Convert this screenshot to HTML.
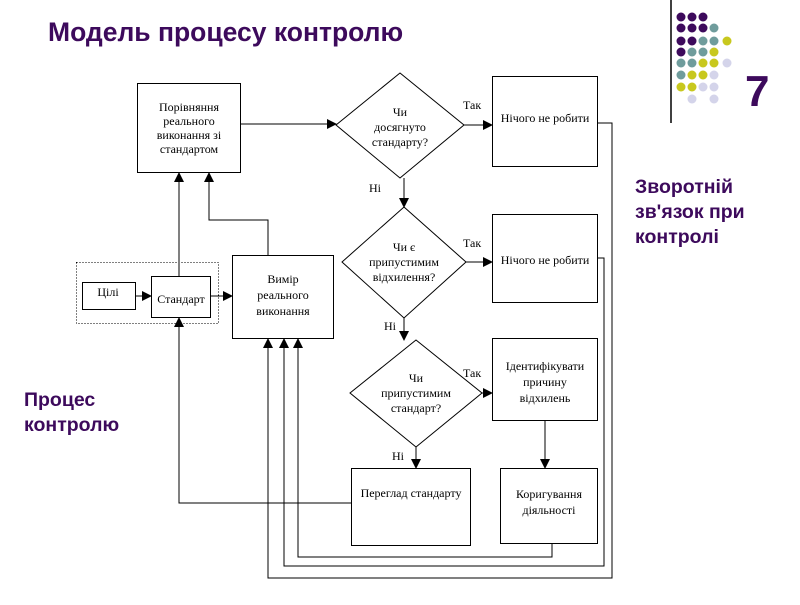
<!DOCTYPE html>
<html><head><meta charset="utf-8"><style>
body{margin:0;background:#fff;}
svg text{font-family:"Liberation Serif",serif;font-size:12px;fill:#000}
.s{font-family:"Liberation Sans",sans-serif;font-weight:bold;fill:#3d0a5c}
</style></head><body>
<svg width="800" height="600" xmlns="http://www.w3.org/2000/svg">
<defs><marker id="a" markerWidth="10" markerHeight="10" refX="9" refY="5" orient="auto" markerUnits="userSpaceOnUse"><path d="M0,0 L10,5 L0,10 z" fill="#000"/></marker></defs>
<line x1="671" y1="0" x2="671" y2="123" stroke="#000" stroke-width="1.5"/>
<g>
<circle cx="681" cy="17" r="4.5" fill="#3d0a5c"/><circle cx="692" cy="17" r="4.5" fill="#3d0a5c"/><circle cx="703" cy="17" r="4.5" fill="#3d0a5c"/>
<circle cx="681" cy="28" r="4.5" fill="#3d0a5c"/><circle cx="692" cy="28" r="4.5" fill="#3d0a5c"/><circle cx="703" cy="28" r="4.5" fill="#3d0a5c"/><circle cx="714" cy="28" r="4.5" fill="#6f9c9c"/>
<circle cx="681" cy="41" r="4.5" fill="#3d0a5c"/><circle cx="692" cy="41" r="4.5" fill="#3d0a5c"/><circle cx="703" cy="41" r="4.5" fill="#6f9c9c"/><circle cx="714" cy="41" r="4.5" fill="#6f9c9c"/><circle cx="727" cy="41" r="4.5" fill="#c8c81e"/>
<circle cx="681" cy="52" r="4.5" fill="#3d0a5c"/><circle cx="692" cy="52" r="4.5" fill="#6f9c9c"/><circle cx="703" cy="52" r="4.5" fill="#6f9c9c"/><circle cx="714" cy="52" r="4.5" fill="#c8c81e"/>
<circle cx="681" cy="63" r="4.5" fill="#6f9c9c"/><circle cx="692" cy="63" r="4.5" fill="#6f9c9c"/><circle cx="703" cy="63" r="4.5" fill="#c8c81e"/><circle cx="714" cy="63" r="4.5" fill="#c8c81e"/><circle cx="727" cy="63" r="4.5" fill="#d4d4ea"/>
<circle cx="681" cy="75" r="4.5" fill="#6f9c9c"/><circle cx="692" cy="75" r="4.5" fill="#c8c81e"/><circle cx="703" cy="75" r="4.5" fill="#c8c81e"/><circle cx="714" cy="75" r="4.5" fill="#d4d4ea"/>
<circle cx="681" cy="87" r="4.5" fill="#c8c81e"/><circle cx="692" cy="87" r="4.5" fill="#c8c81e"/><circle cx="703" cy="87" r="4.5" fill="#d4d4ea"/><circle cx="714" cy="87" r="4.5" fill="#d4d4ea"/>
<circle cx="692" cy="99" r="4.5" fill="#d4d4ea"/><circle cx="714" cy="99" r="4.5" fill="#d4d4ea"/>
</g>
<text x="745" y="106" class="s" style="font-size:44px">7</text>
<text x="48" y="41" class="s" style="font-size:26.5px">Модель процесу контролю</text>
<text x="635" y="193" class="s" style="font-size:19.5px">Зворотній</text>
<text x="635" y="218" class="s" style="font-size:19.5px">зв'язок при</text>
<text x="635" y="243" class="s" style="font-size:19.5px">контролі</text>
<text x="24" y="406" class="s" style="font-size:19.5px">Процес</text>
<text x="24" y="431" class="s" style="font-size:19.5px">контролю</text>

<g fill="none" stroke="#000" stroke-width="1">
<rect x="137.5" y="83.5" width="103" height="89"/>
<rect x="232.5" y="255.5" width="101" height="83"/>
<rect x="151.5" y="276.5" width="59" height="41"/>
<rect x="82.5" y="282.5" width="53" height="27"/>
<rect x="76.5" y="262.5" width="142" height="61" stroke-dasharray="1,2"/>
<rect x="492.5" y="76.5" width="105" height="90"/>
<rect x="492.5" y="214.5" width="105" height="88"/>
<rect x="492.5" y="338.5" width="105" height="82"/>
<rect x="500.5" y="468.5" width="97" height="75"/>
<rect x="351.5" y="468.5" width="119" height="77"/>
<polygon points="400,73 464,125 400,178 336,125"/>
<polygon points="404,207 466,262 404,318 342,262"/>
<polygon points="416,340 482,393 416,447 350,393"/>
</g>
<g fill="none" stroke="#000" stroke-width="1" marker-end="url(#a)">
<line x1="135" y1="296" x2="151" y2="296"/>
<line x1="210" y1="296" x2="232" y2="296"/>
<line x1="179" y1="276" x2="179" y2="173"/>
<polyline points="268,255 268,220 209,220 209,173"/>
<line x1="240" y1="124" x2="336" y2="124"/>
<line x1="464" y1="125" x2="492" y2="125"/>
<line x1="404" y1="178" x2="404" y2="207"/>
<line x1="466" y1="262" x2="492" y2="262"/>
<line x1="404" y1="318" x2="404" y2="340"/>
<line x1="482" y1="393" x2="492" y2="393"/>
<line x1="416" y1="447" x2="416" y2="468"/>
<line x1="545" y1="420" x2="545" y2="468"/>
<polyline points="351,503 179,503 179,318"/>
<polyline points="597,123 612,123 612,578 268,578 268,339"/>
<polyline points="597,258 604,258 604,566 284,566 284,339"/>
<polyline points="552,543 552,557 298,557 298,339"/>
</g>
<g text-anchor="middle">
<text x="189" y="111">Порівняння</text><text x="189" y="125">реального</text><text x="189" y="139">виконання зі</text><text x="189" y="153">стандартом</text>
<text x="283" y="283">Вимір</text><text x="283" y="299">реального</text><text x="283" y="315">виконання</text>
<text x="181" y="303">Стандарт</text>
<text x="108" y="296">Цілі</text>
<text x="545" y="122">Нічого не робити</text>
<text x="545" y="264">Нічого не робити</text>
<text x="545" y="370">Ідентифікувати</text><text x="545" y="386">причину</text><text x="545" y="402">відхилень</text>
<text x="549" y="498">Коригування</text><text x="549" y="514">діяльності</text>
<text x="411" y="497">Переглад  стандарту</text>
<text x="400" y="116">Чи</text><text x="400" y="131">досягнуто</text><text x="400" y="146">стандарту?</text>
<text x="404" y="251">Чи є</text><text x="404" y="266">припустимим</text><text x="404" y="281">відхилення?</text>
<text x="416" y="382">Чи</text><text x="416" y="397">припустимим</text><text x="416" y="412">стандарт?</text>
</g>
<text x="463" y="109">Так</text><text x="463" y="247">Так</text><text x="463" y="377">Так</text>
<text x="369" y="192">Ні</text><text x="384" y="330">Ні</text><text x="392" y="460">Ні</text>
</svg>
</body></html>
